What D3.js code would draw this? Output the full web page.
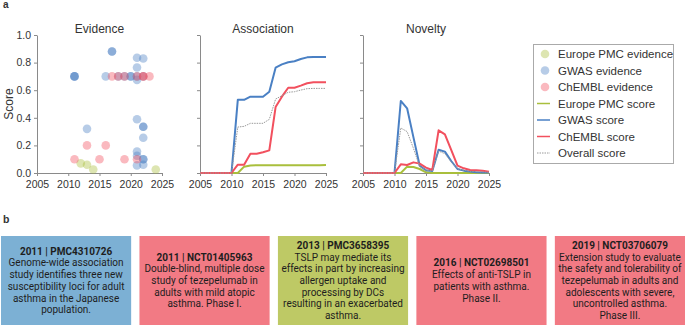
<!DOCTYPE html>
<html>
<head>
<meta charset="utf-8">
<script src="https://cdn.jsdelivr.net/npm/d3@7"></script>
<style>
  body { margin: 0; background: #fff; }
  svg text { font-family: "Liberation Sans", Arial, sans-serif; fill: #333; }
  .axis path, .axis line { stroke: #8a8a8a; }
  .axis text { font-size: 10.5px; fill: #333; }
  .card text { font-family: Roboto, "Liberation Sans", sans-serif; fill: #1e1e1e; }
</style>
</head>
<body>
<svg id="fig" width="685" height="326"></svg>
<script>
// years for score lines
const years = d3.range(2005, 2026);

// evidence points (year, score)
const epmcEvYears = [2012, 2013, 2014, 2024];
const epmcEvScores = [0.07, 0.06, 0.025, 0.025];
const gwasEvYears = [2011, 2011, 2011, 2013, 2016, 2017, 2017, 2018, 2019, 2020, 2020,
  2021, 2021, 2021, 2021, 2021, 2021, 2021, 2021,
  2022, 2022, 2022, 2022, 2022, 2022, 2022, 2022];
const gwasEvScores = [0.70, 0.70, 0.70, 0.32, 0.70, 0.88, 0.88, 0.70, 0.70, 0.70, 0.70,
  0.70, 0.835, 0.765, 0.675, 0.39, 0.155, 0.125, 0.055,
  0.70, 0.83, 0.335, 0.335, 0.255, 0.10, 0.10, 0.06];
const chemblEvYears = [2011, 2013, 2015, 2016, 2017, 2018, 2019, 2019, 2021, 2021, 2022, 2022, 2023];
const chemblEvScores = [0.10, 0.20, 0.10, 0.20, 0.70, 0.70, 0.70, 0.10, 0.70, 0.10, 0.70, 0.70, 0.70];

// association scores by year 2005..2025
const assocEpmc = [0, 0, 0, 0, 0, 0, 0, 0.046, 0.055, 0.056, 0.056, 0.056, 0.056, 0.056, 0.056, 0.056, 0.056, 0.056, 0.057, 0.057, 0.058];
const assocGwas = [0, 0, 0, 0, 0, 0, 0.53, 0.53, 0.553, 0.553, 0.553, 0.589, 0.763, 0.787, 0.802, 0.81, 0.826, 0.838, 0.84, 0.84, 0.84];
const assocChembl = [0, 0, 0, 0, 0, 0, 0.06, 0.06, 0.14, 0.14, 0.15, 0.164, 0.478, 0.553, 0.618, 0.618, 0.633, 0.65, 0.657, 0.657, 0.657];
const assocOverall = [0, 0, 0, 0, 0, 0, 0.333, 0.338, 0.36, 0.36, 0.36, 0.389, 0.536, 0.56, 0.585, 0.589, 0.601, 0.611, 0.613, 0.613, 0.613];

// novelty scores by year 2005..2025
const novEpmc = [0, 0, 0, 0, 0, 0, 0, 0.046, 0.043, 0.029, 0.005, 0, 0, 0, 0, 0, 0, 0, 0, 0, 0];
const novGwas = [0, 0, 0, 0, 0, 0, 0.522, 0.469, 0.26, 0.053, 0.02, 0.015, 0.169, 0.155, 0.087, 0.029, 0.017, 0.01, 0.006, 0.004, 0.003];
const novChembl = [0, 0, 0, 0, 0, 0, 0.063, 0.058, 0.077, 0.068, 0.039, 0.022, 0.309, 0.28, 0.167, 0.053, 0.034, 0.022, 0.02, 0.017, 0.01];
const novOverall = [0, 0, 0, 0, 0, 0, 0.326, 0.30, 0.18, 0.045, 0.02, 0.015, 0.159, 0.14, 0.08, 0.03, 0.02, 0.012, 0.01, 0.008, 0.006];

const xTicks = [2005, 2010, 2015, 2020, 2025];
const yTicks = [0, 0.2, 0.4, 0.6, 0.8, 1.0];
const legendLabels = ["Europe PMC evidence", "GWAS evidence", "ChEMBL evidence",
  "Europe PMC score", "GWAS score", "ChEMBL score", "Overall score"];

// panel b cards
const cardTitles = ["2011 | PMC4310726", "2011 | NCT01405963", "2013 | PMC3658395", "2016 | NCT02698501", "2019 | NCT03706079"];
const cardSources = ["gwas", "chembl", "epmc", "chembl", "chembl"];
const cardLines = [
  ["Genome-wide association", "study identifies three new", "susceptibility loci for adult", "asthma in the Japanese", "population."],
  ["Double-blind, multiple dose", "study of tezepelumab in", "adults with mild atopic", "asthma. Phase I."],
  ["TSLP may mediate its", "effects in part by increasing", "allergen uptake and", "processing by DCs", "resulting in an exacerbated", "asthma."],
  ["Effects of anti-TSLP in", "patients with asthma.", "Phase II."],
  ["Extension study to evaluate", "the safety and tolerability of", "tezepelumab in adults and", "adolescents with severe,", "uncontrolled asthma.", "Phase III."]
];

const col = { epmc: "#a9bf3c", gwas: "#4a80c4", chembl: "#f2505e", overall: "#9a9a9a" };
const cardCol = { epmc: "#bec965", gwas: "#7cb0d4", chembl: "#f27a84" };

const svg = d3.select("#fig");
const plotTop = 35, plotBottom = 173;
const yScale = d3.scaleLinear().domain([0, 1]).range([plotBottom, plotTop]);

const panels = [
  { title: "Evidence", x0: 37, x1: 162 },
  { title: "Association", x0: 200, x1: 326 },
  { title: "Novelty", x0: 363, x1: 489 }
];

panels.forEach(function (p, i) {
  p.x = d3.scaleLinear().domain([2005, 2025]).range([p.x0, p.x1]);
  var g = svg.append("g");
  g.append("g").attr("class", "axis")
    .attr("transform", "translate(0," + plotBottom + ")")
    .call(d3.axisBottom(p.x).tickValues(xTicks).tickFormat(d3.format("d")).tickSize(3).tickSizeOuter(0))
    .selectAll("text").attr("dy", "0.85em");
  g.append("g").attr("class", "axis")
    .attr("transform", "translate(" + p.x0 + ",0)")
    .call(d3.axisLeft(yScale).tickValues(yTicks).tickFormat(i === 0 ? d3.format(".1f") : "").tickSize(3).tickSizeOuter(0));
  g.append("text")
    .attr("x", (p.x0 + p.x1) / 2).attr("y", 33)
    .attr("text-anchor", "middle").attr("font-size", "12px")
    .text(p.title);
  p.g = g;
});

svg.append("text")
  .attr("transform", "translate(13," + (plotTop + plotBottom) / 2 + ") rotate(-90)")
  .attr("text-anchor", "middle").attr("font-size", "12px")
  .text("Score");

// evidence scatter
var ev = panels[0];
function dots(ys, ss, c) {
  ev.g.append("g").selectAll("circle")
    .data(ys.map(function (y, i) { return { year: y, score: ss[i] }; }))
    .enter().append("circle")
    .attr("cx", function (d) { return ev.x(d.year); })
    .attr("cy", function (d) { return yScale(d.score); })
    .attr("r", 4.3)
    .attr("fill", c)
    .attr("fill-opacity", 0.4);
}
dots(epmcEvYears, epmcEvScores, col.epmc);
dots(gwasEvYears, gwasEvScores, col.gwas);
dots(chemblEvYears, chemblEvScores, col.chembl);

// score lines
function scoreLine(p, vals, c, w, dash) {
  var line = d3.line().x(function (d, i) { return p.x(years[i]); }).y(function (d) { return yScale(d); });
  p.g.append("path").datum(vals)
    .attr("d", line).attr("fill", "none")
    .attr("stroke", c).attr("stroke-width", w)
    .attr("stroke-dasharray", dash || null)
    .attr("stroke-linejoin", "round");
}
[[panels[1], assocEpmc, assocGwas, assocChembl, assocOverall],
 [panels[2], novEpmc, novGwas, novChembl, novOverall]].forEach(function (s) {
  scoreLine(s[0], s[1], col.epmc, 2);
  scoreLine(s[0], s[2], col.gwas, 2);
  scoreLine(s[0], s[3], col.chembl, 2);
  scoreLine(s[0], s[4], col.overall, 1, "1.5,1");
});

// legend
var lg = svg.append("g");
lg.append("rect").attr("x", 533.5).attr("y", 44.5).attr("width", 140).attr("height", 119)
  .attr("fill", "#fff").attr("stroke", "#aaa");
var legKeys = ["epmc", "gwas", "chembl", "epmc", "gwas", "chembl", "overall"];
legendLabels.forEach(function (lab, i) {
  var y = 54 + i * 16.5;
  if (i < 3) {
    lg.append("circle").attr("cx", 545).attr("cy", y).attr("r", 4.3)
      .attr("fill", col[legKeys[i]]).attr("fill-opacity", 0.4);
  } else {
    lg.append("line").attr("x1", 537).attr("x2", 550).attr("y1", y).attr("y2", y)
      .attr("stroke", col[legKeys[i]]).attr("stroke-width", i === 6 ? 1 : 1.5)
      .attr("stroke-dasharray", i === 6 ? "1.5,1" : null);
  }
  lg.append("text").attr("x", 558).attr("y", y).attr("dy", "0.35em")
    .attr("font-size", "11.5px").text(lab);
});

// panel letters
svg.append("text").attr("x", 3).attr("y", 8).attr("font-size", "10px").attr("font-weight", "bold").attr("fill", "#111").text("a");
svg.append("text").attr("x", 3).attr("y", 223).attr("font-size", "10.5px").attr("font-weight", "bold").attr("fill", "#111").text("b");

// cards
var cardX = d3.scaleBand().domain(d3.range(5)).range([1, 685]).paddingInner(0.06);
var cy0 = 236, cy1 = 325, lh = 11.7;
cardTitles.forEach(function (t, i) {
  var g = svg.append("g").attr("class", "card");
  var x = cardX(i), w = cardX.bandwidth();
  g.append("rect").attr("x", x).attr("y", cy0).attr("width", w).attr("height", cy1 - cy0)
    .attr("fill", cardCol[cardSources[i]]);
  var n = cardLines[i].length + 1;
  var yStart = (cy0 + cy1) / 2 - (n - 1) * lh / 2;
  g.append("text").attr("x", x + w / 2).attr("y", yStart).attr("dy", "0.35em")
    .attr("text-anchor", "middle").attr("font-size", "10px").attr("font-weight", "bold")
    .text(t);
  cardLines[i].forEach(function (l, j) {
    g.append("text").attr("x", x + w / 2).attr("y", yStart + (j + 1) * lh).attr("dy", "0.35em")
      .attr("text-anchor", "middle").attr("font-size", "10px")
      .text(l);
  });
});
</script>
</body>
</html>
